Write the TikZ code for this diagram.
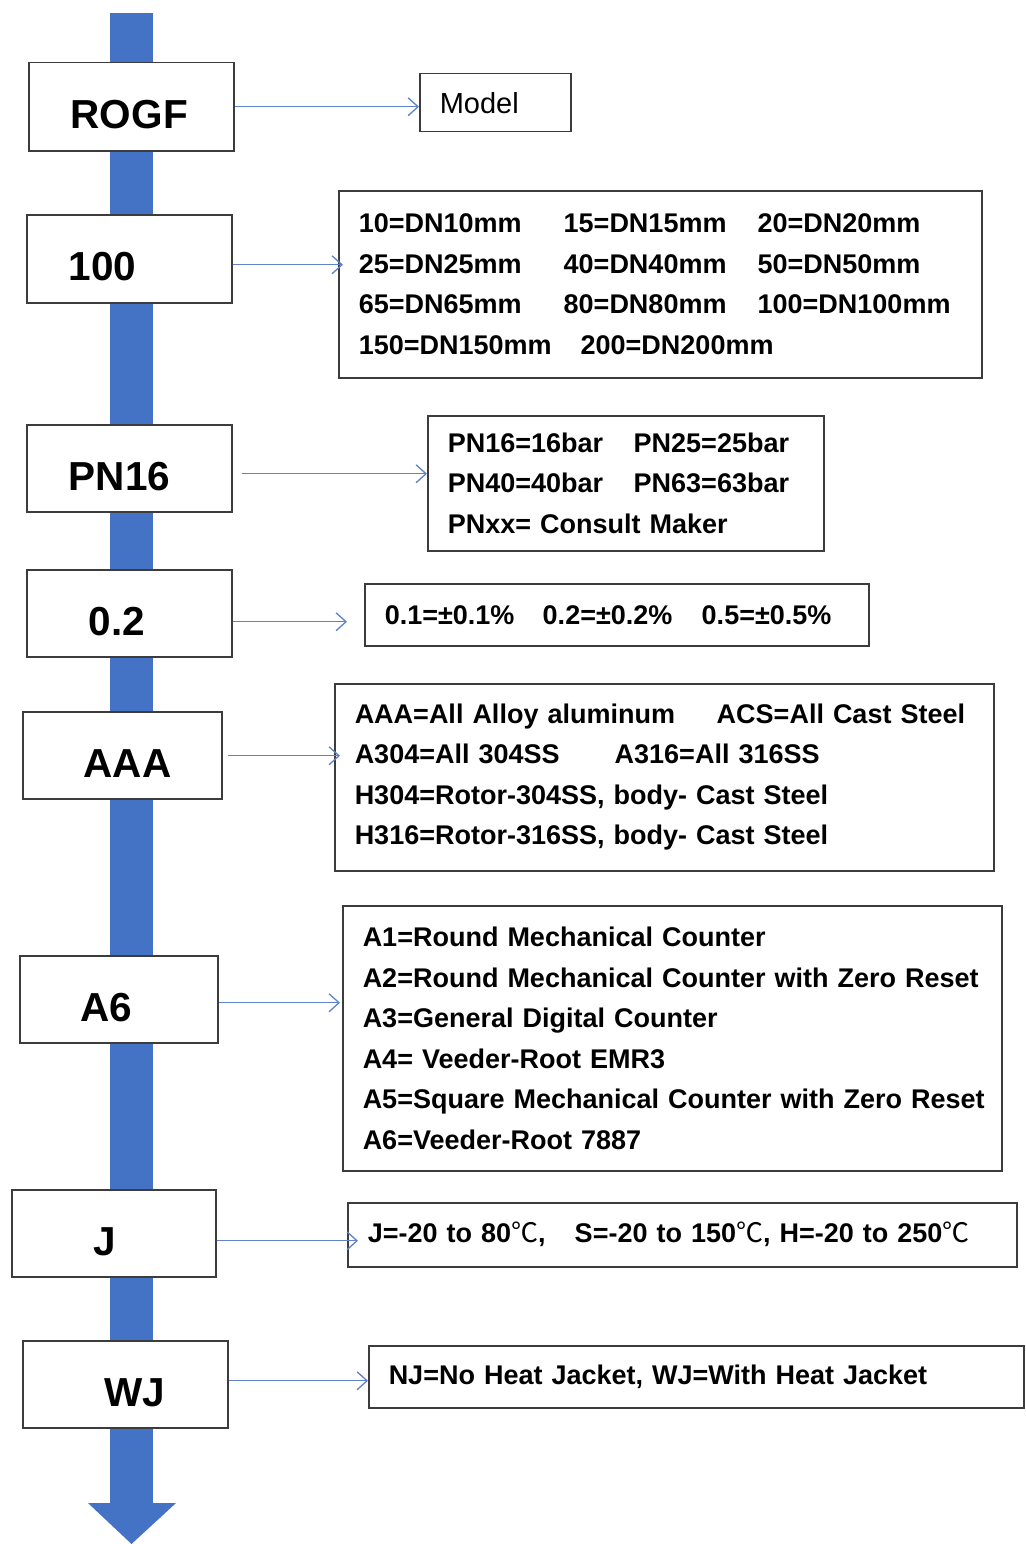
\documentclass[tikz,border=0pt]{standalone}
\usepackage{fontspec}
\setmainfont{Liberation Sans}
\newfontfamily\cjk{Noto Sans CJK SC}
\usetikzlibrary{arrows.meta}
\definecolor{barblue}{RGB}{68,114,196}
\definecolor{linkblue}{RGB}{95,130,200}
\definecolor{edgegray}{RGB}{60,60,60}
\newcommand\degC{{\cjk\mdseries ℃}}
\begin{document}
\begin{tikzpicture}[x=1pt,y=-1pt,
 leftbox/.style={draw=edgegray, line width=1.5pt, fill=white, anchor=north west,
   inner xsep=0pt, inner ysep=0pt, align=left, text height=44pt, text depth=0pt,
   font=\fontsize{40.5}{44}\selectfont\bfseries},
 rightbox/.style={draw=edgegray, line width=1.5pt, fill=white, anchor=north west,
   inner xsep=20pt, inner ysep=0pt, align=left,
   font=\fontsize{27}{40.5}\selectfont\bfseries},
 conn/.style={draw=linkblue, line width=1.3pt,
   -{Straight Barb[length=10pt,width=18pt,line width=1.3pt]}}]

\useasboundingbox (0,0) rectangle (1025,1544);
\fill[white] (0,0) rectangle (1025,1544);

% main flow bar
\fill[barblue] (110,13) rectangle (153,1503);
\fill[barblue] (88,1503) -- (176,1503) -- (131.5,1544) -- cycle;

% left code boxes
\node[leftbox, text width=205pt, minimum height=88pt] (L1) at (28,62)   {\hspace*{42pt}ROGF};
\node[leftbox, text width=205pt, minimum height=88pt] (L2) at (26,214)  {\hspace*{42pt}100};
\node[leftbox, text width=205pt, minimum height=87pt] (L3) at (26,424)  {\hspace*{42pt}PN16};
\node[leftbox, text width=205pt, minimum height=87pt] (L4) at (26,569)  {\hspace*{62pt}0.2};
\node[leftbox, text width=199pt, minimum height=87pt] (L5) at (22,711)  {\hspace*{61pt}AAA};
\node[leftbox, text width=198pt, minimum height=87pt] (L6) at (19,955)  {\hspace*{61pt}A6};
\node[leftbox, text width=204pt, minimum height=87pt] (L7) at (11,1189) {\hspace*{82pt}J};
\node[leftbox, text width=205pt, minimum height=87pt] (L8) at (22,1340) {\hspace*{82pt}WJ};

% right description boxes
\node[rightbox, text width=111pt, minimum height=58pt, font=\fontsize{29}{35}\selectfont] (R1) at (419,73) {Model};

\node[rightbox, text width=603pt, minimum height=187pt] (R2) at (338,190) {%
\makebox[205pt][l]{10=DN10mm}\makebox[194pt][l]{15=DN15mm}20=DN20mm\\
\makebox[205pt][l]{25=DN25mm}\makebox[194pt][l]{40=DN40mm}50=DN50mm\\
\makebox[205pt][l]{65=DN65mm}\makebox[194pt][l]{80=DN80mm}100=DN100mm\\
\makebox[222pt][l]{150=DN150mm}200=DN200mm};

\node[rightbox, text width=356pt, minimum height=135pt] (R3) at (427,415) {%
\makebox[186pt][l]{PN16=16bar}PN25=25bar\\
\makebox[186pt][l]{PN40=40bar}PN63=63bar\\
PNxx= Consult Maker};

\node[rightbox, text width=464pt, minimum height=62pt] (R4) at (364,583) {%
\makebox[158pt][l]{0.1=±0.1\%}\makebox[159pt][l]{0.2=±0.2\%}0.5=±0.5\%};

\node[rightbox, text width=619pt, minimum height=187pt] (R5) at (334,683) {%
\makebox[362pt][l]{AAA=All Alloy aluminum}ACS=All Cast Steel\\
\makebox[260pt][l]{A304=All 304SS}A316=All 316SS\\
\mbox{H304=Rotor-304SS, body- Cast Steel}\\
\mbox{H316=Rotor-316SS, body- Cast Steel}};

\node[rightbox, text width=619pt, minimum height=265pt] (R6) at (342,905) {%
\mbox{A1=Round Mechanical Counter}\\
\mbox{A2=Round Mechanical Counter with Zero Reset}\\
\mbox{A3=General Digital Counter}\\
\mbox{A4= Veeder-Root EMR3}\\
\mbox{A5=Square Mechanical Counter with Zero Reset}\\
\mbox{A6=Veeder-Root 7887}};

\node[rightbox, text width=629pt, minimum height=64pt] (R7) at (347,1202) {%
\mbox{\makebox[207pt][l]{J=-20 to 80\degC,}S=-20 to 150\degC, H=-20 to 250\degC}};

\node[rightbox, text width=615pt, minimum height=62pt] (R8) at (368,1345) {%
\mbox{NJ=No Heat Jacket, WJ=With Heat Jacket}};

% connectors
\draw[conn] (L1.east) -- (L1.east -| R1.west);
\draw[conn, shorten >=-5pt] ([yshift=-6pt]L2.east) -- ([yshift=-6pt]L2.east -| R2.west);
\draw[conn] ([xshift=9pt,yshift=-5.5pt]L3.east) -- ([yshift=-5.5pt]L3.east -| R3.west);
\draw[conn, shorten >=17pt] ([yshift=-8.5pt]L4.east) -- ([yshift=-8.5pt]L4.east -| R4.west);
\draw[conn, shorten >=-6pt] ([xshift=5pt,yshift=-0.5pt]L5.east) -- ([yshift=-0.5pt]L5.east -| R5.west);
\draw[conn, shorten >=2pt] ([yshift=-3.5pt]L6.east) -- ([yshift=-3.5pt]L6.east -| R6.west);
\draw[conn, shorten >=-11pt] ([yshift=-7.5pt]L7.east) -- ([yshift=-7.5pt]L7.east -| R7.west);
\draw[conn] ([yshift=3.5pt]L8.east) -- ([yshift=3.5pt]L8.east -| R8.west);
\end{tikzpicture}
\end{document}
